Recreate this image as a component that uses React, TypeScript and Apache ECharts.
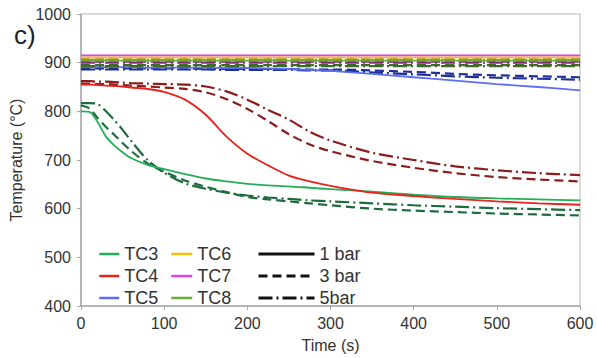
import React, { useEffect, useRef } from "react";
import * as echarts from "echarts";

const times = [0, 10, 20, 30, 40, 50, 60, 80, 100, 125, 150, 175, 200, 225, 250, 275, 300, 350, 400, 450, 500, 550, 600];

// TC3
const tc3_1 = [800, 799, 778, 748, 730, 716, 704, 690, 681, 671, 662, 656, 651, 648, 646, 643, 640, 635, 629, 624, 621, 619, 617];
const tc3_3 = [812, 806, 786, 768, 752, 735, 719, 693, 676, 658, 645, 634, 624, 619, 615, 611, 607, 600, 596, 593, 590, 588, 586];
const tc3_5 = [817, 817, 815, 800, 782, 762, 740, 700, 674, 652, 641, 633, 627, 623, 620, 617, 615, 611, 607, 604, 601, 599, 597];
// TC4
const tc4_1 = [855, 855, 854, 853, 852, 851, 849, 846, 840, 824, 793, 748, 713, 689, 668, 656, 647, 633, 626, 620, 615, 611, 608];
const tc4_3 = [857, 857, 856, 856, 855, 854, 853, 851, 849, 846, 839, 825, 805, 780, 753, 732, 718, 698, 684, 673, 665, 660, 656];
const tc4_5 = [862, 862, 861, 861, 860, 859, 858, 857, 856, 855, 851, 841, 824, 803, 783, 758, 740, 715, 700, 687, 679, 673, 669];
// TC5
const tc5_1 = [891, 891, 891, 891, 891, 891, 891, 890, 890, 890, 890, 889, 889, 888, 887, 885, 883, 877, 870, 863, 856, 850, 843];
const tc5_3 = [888, 888, 888, 888, 888, 888, 888, 888, 888, 888, 887, 887, 887, 887, 887, 886, 886, 884, 881, 877, 874, 872, 870];
const tc5_5 = [886, 886, 886, 886, 886, 886, 886, 886, 886, 886, 886, 885, 885, 885, 885, 884, 884, 880, 876, 872, 869, 867, 865];
// TC6
const tc6_1 = [911, 911, 911, 911, 911, 911, 911, 911, 911, 911, 911, 911, 911, 911, 911, 911, 911, 911, 911, 911, 911, 911, 911];
const tc6_3 = [907, 907, 907, 907, 907, 907, 907, 907, 907, 907, 907, 907, 907, 907, 907, 907, 907, 907, 907, 907, 907, 907, 907];
const tc6_5 = [906, 906, 906, 906, 906, 906, 906, 906, 906, 906, 906, 906, 906, 906, 906, 906, 906, 906, 906, 906, 906, 906, 906];
// TC7
const tc7_1 = [915, 915, 915, 915, 915, 915, 915, 915, 915, 915, 915, 915, 915, 915, 915, 915, 915, 915, 915, 915, 915, 915, 915];
const tc7_3 = [902, 902, 902, 902, 902, 902, 902, 902, 902, 902, 902, 902, 902, 902, 902, 902, 902, 902, 902, 902, 902, 902, 902];
const tc7_5 = [900, 900, 900, 900, 900, 900, 900, 900, 900, 900, 900, 900, 900, 900, 900, 900, 900, 900, 900, 900, 900, 900, 900];
// TC8
const tc8_1 = [904, 904, 904, 904, 904, 904, 904, 904, 904, 904, 904, 904, 904, 904, 904, 904, 904, 904, 904, 904, 904, 904, 904];
const tc8_3 = [895, 895, 895, 895, 895, 895, 895, 895, 895, 895, 895, 895, 895, 895, 895, 895, 895, 895, 895, 895, 895, 895, 895];
const tc8_5 = [893, 893, 893, 893, 893, 893, 893, 893, 893, 893, 893, 893, 893, 893, 893, 893, 893, 893, 893, 893, 893, 893, 893];

const tcNames = ["TC3", "TC4", "TC5", "TC6", "TC7", "TC8"];
const pressureNames = ["1 bar", "3 bar", "5bar"];
const lightColors = ["#21b057", "#e8231b", "#5b6ef5", "#f2c200", "#e040e8", "#6aaa3c"];
const darkColors = ["#1d6b3c", "#8b1c1c", "#1f2f99", "#b88a00", "#8a2a7a", "#3d6b2a"];
const dataSets = [
  [tc3_1, tc3_3, tc3_5],
  [tc4_1, tc4_3, tc4_5],
  [tc5_1, tc5_3, tc5_5],
  [tc6_1, tc6_3, tc6_5],
  [tc7_1, tc7_3, tc7_5],
  [tc8_1, tc8_3, tc8_5],
];

const dashTypes: any[] = ["solid", [9, 5], [14, 4, 2, 4]];
const FONT = "Liberation Sans, Arial, sans-serif";

export default function App() {
  const ref = useRef<HTMLDivElement>(null);
  useEffect(() => {
    if (!ref.current) return;
    const chart = echarts.init(ref.current, null, { renderer: "svg" });
    const series: any[] = [];
    const order = [2, 3, 4, 5, 0, 1];
    order.forEach((i) => {
      [2, 1, 0].forEach((p) => {
        series.push({
          type: "line",
          name: p === 0 ? tcNames[i] : tcNames[i] + " " + pressureNames[p],
          data: times.map((t, k) => [t, dataSets[i][p][k]]),
          showSymbol: false,
          symbol: "none",
          smooth: 0.3,
          color: p === 0 ? lightColors[i] : darkColors[i],
          lineStyle: { width: p === 0 ? 1.8 : 2.2, type: dashTypes[p] },
          z: 2,
        });
      });
    });
    pressureNames.forEach((n, p) => {
      series.push({
        type: "line",
        name: n,
        data: [],
        symbol: "none",
        color: "#111",
        lineStyle: { width: 3, type: dashTypes[p] },
      });
    });
    const legendCommon = {
      orient: "vertical",
      top: 245,
      itemGap: 4,
      itemHeight: 14,
      itemStyle: { opacity: 0 },
      textStyle: { fontFamily: FONT, fontSize: 18, color: "#333" },
      selectedMode: false,
      padding: 0,
    };
    chart.setOption({
      animation: false,
      title: {
        text: "c)",
        left: 9,
        top: 17,
        textStyle: { fontFamily: FONT, fontSize: 26, fontWeight: "normal", color: "#222" },
      },
      grid: {
        left: 81,
        right: 17,
        top: 14,
        bottom: 51,
        show: true,
        borderColor: "#b5b5b5",
        borderWidth: 1,
      },
      legend: [
        { ...legendCommon, left: 98, itemWidth: 20, lineStyle: { width: 2.5 }, data: ["TC3", "TC4", "TC5"] },
        { ...legendCommon, left: 170, itemWidth: 21, lineStyle: { width: 2.5 }, data: ["TC6", "TC7", "TC8"] },
        { ...legendCommon, left: 257, itemWidth: 56, lineStyle: { width: 3 }, data: pressureNames },
      ],
      xAxis: {
        type: "value",
        min: 0,
        max: 600,
        interval: 100,
        name: "Time (s)",
        nameLocation: "middle",
        nameGap: 31,
        nameTextStyle: { fontFamily: FONT, fontSize: 16, color: "#333" },
        axisLine: { lineStyle: { color: "#a9a9a9", width: 1.5 } },
        axisTick: { show: true, length: 4, lineStyle: { color: "#a9a9a9" } },
        axisLabel: { fontFamily: FONT, fontSize: 16, color: "#333", margin: 9 },
        splitLine: { show: false },
      },
      yAxis: {
        type: "value",
        min: 400,
        max: 1000,
        interval: 100,
        name: "Temperature (°C)",
        nameLocation: "middle",
        nameGap: 50,
        nameTextStyle: { fontFamily: FONT, fontSize: 16, color: "#333" },
        axisLine: { show: true, lineStyle: { color: "#a9a9a9", width: 1.5 } },
        axisTick: { show: true, length: 4, lineStyle: { color: "#a9a9a9" } },
        axisLabel: {
          fontFamily: FONT,
          fontSize: 16,
          color: "#333",
          margin: 10,
          formatter: (v: number) => String(v),
        },
        splitLine: { show: false },
      },
      series,
    });
    return () => chart.dispose();
  }, []);
  return (
    <div
      ref={ref}
      style={{ position: "fixed", left: 0, top: 0, width: 597, height: 358, background: "#fff" }}
    />
  );
}
